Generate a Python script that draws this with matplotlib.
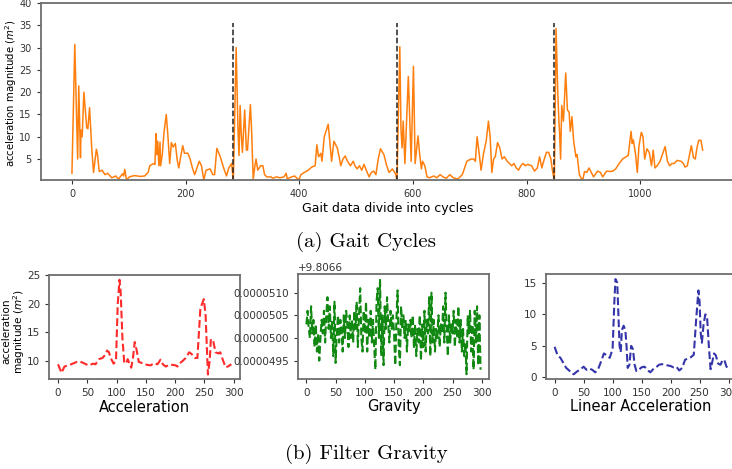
import matplotlib
matplotlib.use("Agg")
import matplotlib.pyplot as plt
from matplotlib import font_manager
from matplotlib.ticker import FuncFormatter

# pick a narrow sans font if there is one
names = {f.name for f in font_manager.fontManager.ttflist}
narrow = "Liberation Sans Narrow" if "Liberation Sans Narrow" in names else "DejaVu Sans"

# gait signal, (sample, magnitude)
gait_points = [
    (0, 1.8), (5, 30.7), (10, 5.0), (12, 21.4), (15, 5.3), (16, 11.5), (18, 10.0), (21, 20.0),
    (26, 12.0), (28, 11.8), (31, 16.5), (35, 7.0), (38, 2.0), (43, 7.2), (45, 6.0), (48, 2.2),
    (53, 2.5), (58, 1.5), (63, 1.8), (70, 0.8), (77, 1.2), (82, 0.5), (89, 1.7), (91, 1.2),
    (93, 2.7), (96, 0.3), (101, 1.0), (110, 1.3), (120, 1.1), (128, 1.2), (134, 2.0), (137, 3.5),
    (144, 4.0), (146, 3.8), (148, 10.7), (149, 6.0), (151, 9.0), (153, 3.5), (155, 8.8), (156, 3.5),
    (159, 6.0), (162, 11.0), (166, 15.0), (169, 10.0), (172, 4.0), (175, 8.7), (178, 7.7), (182, 8.5),
    (185, 5.0), (188, 3.0), (192, 6.0), (195, 8.0), (198, 6.3), (204, 6.3), (208, 5.0), (212, 3.0),
    (216, 1.5), (220, 3.0), (224, 4.5), (228, 3.5), (232, 0.3), (236, 2.5), (243, 2.8), (248, 1.5),
    (251, 1.5), (255, 7.4), (261, 5.5), (267, 3.0), (272, 1.2), (276, 3.0), (281, 4.0), (284, 0.0),
    (289, 30.0), (292, 12.5), (294, 5.8), (296, 17.0), (298, 10.5), (300, 6.5), (304, 16.0), (307, 7.0),
    (309, 7.0), (314, 17.2), (316, 12.0), (318, 4.0), (319, 0.5), (322, 3.5), (324, 5.0), (327, 2.5),
    (332, 3.5), (336, 3.5), (339, 1.5), (343, 1.0), (350, 1.0), (354, 0.7), (360, 1.0), (366, 0.8),
    (373, 1.0), (377, 1.8), (379, 0.6), (387, 1.0), (392, 1.2), (399, 0.3), (403, 1.5), (409, 2.0),
    (416, 2.5), (422, 3.2), (428, 3.5), (431, 8.2), (434, 5.5), (438, 6.3), (440, 4.5), (444, 10.0),
    (451, 12.8), (453, 10.0), (457, 4.5), (461, 9.0), (467, 7.5), (471, 5.0), (473, 3.5), (477, 5.0),
    (481, 5.7), (485, 4.5), (490, 3.5), (495, 4.5), (498, 3.5), (502, 2.8), (506, 3.5), (510, 2.5),
    (514, 3.8), (518, 2.5), (523, 1.0), (527, 2.0), (531, 2.3), (535, 1.5), (539, 5.0), (543, 7.3),
    (549, 6.0), (554, 3.5), (558, 2.0), (564, 2.8), (568, 2.0), (570, 1.5), (572, 0.0),
    (577, 30.2), (579, 12.0), (581, 7.5), (583, 13.5), (586, 4.0), (592, 23.5), (597, 4.5), (601, 25.8),
    (604, 4.0), (609, 10.2), (612, 6.0), (615, 2.8), (617, 4.5), (621, 3.5), (625, 1.0), (629, 0.8),
    (637, 1.2), (642, 0.8), (648, 1.5), (653, 1.0), (659, 0.7), (665, 1.5), (671, 0.8), (679, 0.5),
    (687, 1.5), (691, 3.0), (695, 4.5), (702, 5.0), (707, 5.0), (710, 4.5), (713, 10.0), (716, 7.0),
    (720, 2.5), (724, 6.0), (729, 9.0), (733, 13.5), (736, 10.0), (739, 2.0), (742, 5.0), (745, 5.5),
    (749, 8.7), (753, 7.5), (757, 5.0), (761, 5.5), (766, 4.5), (770, 4.0), (774, 3.5), (778, 4.0),
    (782, 3.0), (786, 2.5), (790, 3.5), (794, 4.0), (798, 3.5), (802, 3.8), (809, 3.5), (814, 2.3),
    (819, 3.0), (823, 5.5), (827, 3.0), (829, 4.0), (835, 6.5), (839, 6.5), (843, 5.0), (845, 3.0),
    (849, 0.0),
    (852, 34.3), (855, 20.0), (857, 13.5), (858, 11.5), (860, 5.0), (862, 17.0), (865, 13.5), (869, 24.3),
    (872, 16.0), (875, 15.5), (877, 11.2), (880, 14.5), (883, 9.0), (887, 5.5), (889, 6.0), (893, 1.5),
    (897, 0.5), (899, 0.3), (902, 2.2), (906, 2.0), (910, 3.0), (914, 2.0), (918, 1.0), (925, 2.3),
    (930, 2.0), (934, 1.0), (941, 2.3), (947, 2.2), (952, 2.3), (957, 2.8), (963, 4.0), (969, 5.0),
    (975, 5.5), (979, 5.8), (984, 11.2), (986, 8.5), (988, 9.3), (992, 6.0), (995, 2.0), (998, 8.0),
    (1002, 11.0), (1005, 10.0), (1008, 5.0), (1012, 7.3), (1016, 6.5), (1020, 3.5), (1023, 7.0), (1026, 3.0),
    (1030, 3.5), (1035, 4.5), (1039, 6.0), (1044, 7.8), (1048, 4.5), (1052, 3.5), (1056, 4.0), (1060, 4.0),
    (1065, 4.7), (1072, 4.5), (1076, 4.0), (1079, 3.2), (1083, 3.5), (1087, 6.0), (1090, 8.0), (1094, 5.3),
    (1097, 5.0), (1100, 7.5), (1103, 9.2), (1107, 9.2), (1110, 7.0),
]
cycle_starts = [284, 572, 849]
cycle_line_top = 35.6

accel_points = [
    (0, 9.4), (6, 7.9), (11, 9.0), (20, 9.3), (32, 9.8), (37, 9.9), (46, 9.5), (52, 9.2),
    (60, 9.5), (64, 9.4), (70, 10.3), (76, 10.5), (80, 11.0), (84, 11.8), (87, 11.5), (90, 10.5),
    (95, 9.5), (99, 10.0), (102, 20.0), (105, 24.2), (107, 22.0), (110, 14.0), (113, 9.8), (116, 9.5),
    (119, 10.3), (122, 9.5), (125, 8.8), (128, 10.5), (131, 13.3), (134, 12.0), (138, 9.8), (144, 9.6),
    (152, 9.3), (158, 9.2), (164, 9.6), (170, 9.4), (175, 10.2), (179, 9.4), (184, 9.0), (190, 9.3),
    (195, 9.3), (201, 9.2), (204, 9.0), (207, 9.5), (213, 10.0), (218, 10.5), (224, 11.5), (228, 11.2),
    (234, 10.5), (238, 10.5), (243, 19.0), (246, 20.0), (249, 20.8), (252, 18.0), (256, 7.6), (259, 10.0),
    (261, 13.8), (265, 13.5), (269, 11.5), (274, 11.3), (277, 11.5), (281, 10.3), (286, 8.9), (290, 9.0),
    (296, 9.4),
]

gravity_base = 9.8066
gravity_step = 2
# gravity minus 9.8066, in units of 1e-7
gravity_delta = [
    503, 506, 502, 500, 507, 501, 504, 498, 503, 497,
    501, 495, 500, 504, 501, 506, 499, 505, 509, 502,
    507, 500, 504, 496, 508, 494.5, 501, 505, 499, 504,
    502, 497, 505, 500, 506, 503, 498, 505, 500, 504,
    499, 506, 502, 508, 498, 505, 511, 500, 497, 506,
    501, 508, 497, 504, 500, 506, 499, 504, 498, 493,
    508, 511, 500, 513, 496, 505, 494, 507, 502, 509,
    503, 499, 506, 502, 505, 501, 494, 504, 510.5, 498,
    494, 507, 502, 505, 500, 504, 497, 503, 501, 504,
    500, 505, 498, 503, 496, 502, 499, 505, 495, 503,
    498, 506, 497, 504, 501, 509, 496, 510, 499, 504,
    497, 502, 500, 505, 498, 503, 501, 507, 499, 510,
    502, 496, 505, 499, 503, 501, 506, 498, 504, 500,
    507, 499, 504, 497, 502, 496, 499, 492, 505, 501,
    506, 497, 503, 493, 506, 499, 507, 494, 505, 493,
]
gravity_ticks = [495, 500, 505, 510]

linear_points = [
    (0, 4.85), (5, 3.5), (10, 3.1), (15, 2.3), (20, 1.5), (25, 1.1), (30, 0.6), (33, 0.5),
    (38, 0.9), (45, 1.3), (50, 1.7), (55, 1.2), (60, 1.4), (65, 1.2), (70, 0.8), (75, 1.3),
    (80, 2.5), (85, 3.8), (90, 3.5), (95, 3.1), (100, 4.5), (103, 12.0), (105, 15.6), (108, 15.0),
    (110, 10.0), (112, 5.0), (114, 4.0), (116, 7.5), (119, 8.2), (122, 7.5), (124, 5.0), (126, 1.5),
    (129, 2.0), (132, 5.0), (135, 4.5), (138, 2.0), (141, 1.0), (145, 1.2), (150, 1.6), (155, 1.7),
    (160, 1.2), (165, 0.8), (170, 1.3), (175, 1.6), (180, 2.0), (185, 2.1), (190, 2.0), (195, 1.9),
    (200, 1.8), (205, 1.6), (210, 1.7), (215, 1.1), (220, 1.5), (225, 2.8), (230, 3.0), (235, 3.2),
    (240, 3.6), (244, 9.0), (248, 13.8), (250, 12.0), (252, 7.0), (254, 5.5), (257, 8.5), (260, 10.0),
    (263, 9.5), (266, 5.0), (269, 1.3), (272, 2.5), (275, 3.8), (278, 3.5), (282, 2.2), (286, 2.0),
    (290, 2.8), (293, 2.7), (296, 1.8), (298, 1.5),
]

spine_col = "#6e6e6e"


def style(ax, size):
    for s in ax.spines.values():
        s.set_color(spine_col)
        s.set_linewidth(1.3)
    ax.tick_params(labelsize=size, colors="#333333", length=3, width=0.8)
    for lab in ax.get_xticklabels() + ax.get_yticklabels():
        lab.set_family(narrow)


fig = plt.figure(figsize=(7.32, 4.69), dpi=100)

# (a) gait cycles
ax = fig.add_axes([0.0556, 0.6162, 0.947, 0.3774])
gx, gy = zip(*gait_points)
ax.plot(gx, gy, color="#ff7f0e", lw=1.1)
ax.vlines(cycle_starts, 0, cycle_line_top, colors="#222222", linestyles="--", lw=1.1)
ax.set_xlim(-55, 1165)
ax.set_ylim(0.3, 40)
ax.set_xticks([0, 200, 400, 600, 800, 1000])
ax.set_yticks([5, 10, 15, 20, 25, 30, 35, 40])
ax.set_xlabel("Gait data divide into cycles", fontsize=9, family=narrow, labelpad=2)
ax.set_ylabel("acceleration magnitude ($m^2$)", fontsize=7.3, family=narrow)
ax.yaxis.set_label_coords(-0.031, 0.49)
style(ax, 7)

fig.text(0.5, 0.484, "(a) Gait Cycles", ha="center", va="center", fontsize=15, family="cmr10")
fig.text(0.5, 0.032, "(b) Filter Gravity", ha="center", va="center", fontsize=15, family="cmr10")

# (b) acceleration
ax1 = fig.add_axes([0.0674, 0.1913, 0.2605, 0.2223])
ax_, ay_ = zip(*accel_points)
ax1.plot(ax_, ay_, color="#ff2a2a", ls="--", lw=1.5)
ax1.set_xticks([0, 50, 100, 150, 200, 250, 300])
ax1.set_yticks([10, 15, 20, 25])
ax1.set_xlabel("Acceleration", fontsize=10.5, family=narrow, labelpad=1)
ax1.set_ylabel("acceleration\nmagnitude ($m^2$)", fontsize=7.6, linespacing=1.0)
ax1.yaxis.set_label_coords(-0.118, 0.46)
style(ax1, 7.5)

# gravity
ax2 = fig.add_axes([0.4067, 0.1919, 0.2617, 0.2232])
gvx = [i * gravity_step for i in range(len(gravity_delta))]
gvy = [gravity_base + d * 1e-7 for d in gravity_delta]
ax2.plot(gvx, gvy, color="#118811", ls="--", lw=1.5)
ax2.set_xticks([0, 50, 100, 150, 200, 250, 300])
ax2.set_yticks([gravity_base + t * 1e-7 for t in gravity_ticks])
ax2.yaxis.set_major_formatter(FuncFormatter(lambda v, p: f"{v - gravity_base:.7f}"))
ax2.text(0.0, 1.015, "+9.8066", transform=ax2.transAxes, fontsize=7.5, family=narrow,
         color="#333333", va="bottom", ha="left")
ax2.set_xlabel("Gravity", fontsize=10.5, family=narrow, labelpad=1)
style(ax2, 7.5)

# linear acceleration
ax3 = fig.add_axes([0.7459, 0.1919, 0.2596, 0.2232])
lx, ly = zip(*linear_points)
ax3.plot(lx, ly, color="#3535aa", ls="--", lw=1.5)
ax3.set_xticks([0, 50, 100, 150, 200, 250, 300])
ax3.set_yticks([0, 5, 10, 15])
ax3.set_xlabel("Linear Acceleration", fontsize=10.5, family=narrow, labelpad=1)
style(ax3, 7.5)

fig.savefig("out.png", dpi=100)
